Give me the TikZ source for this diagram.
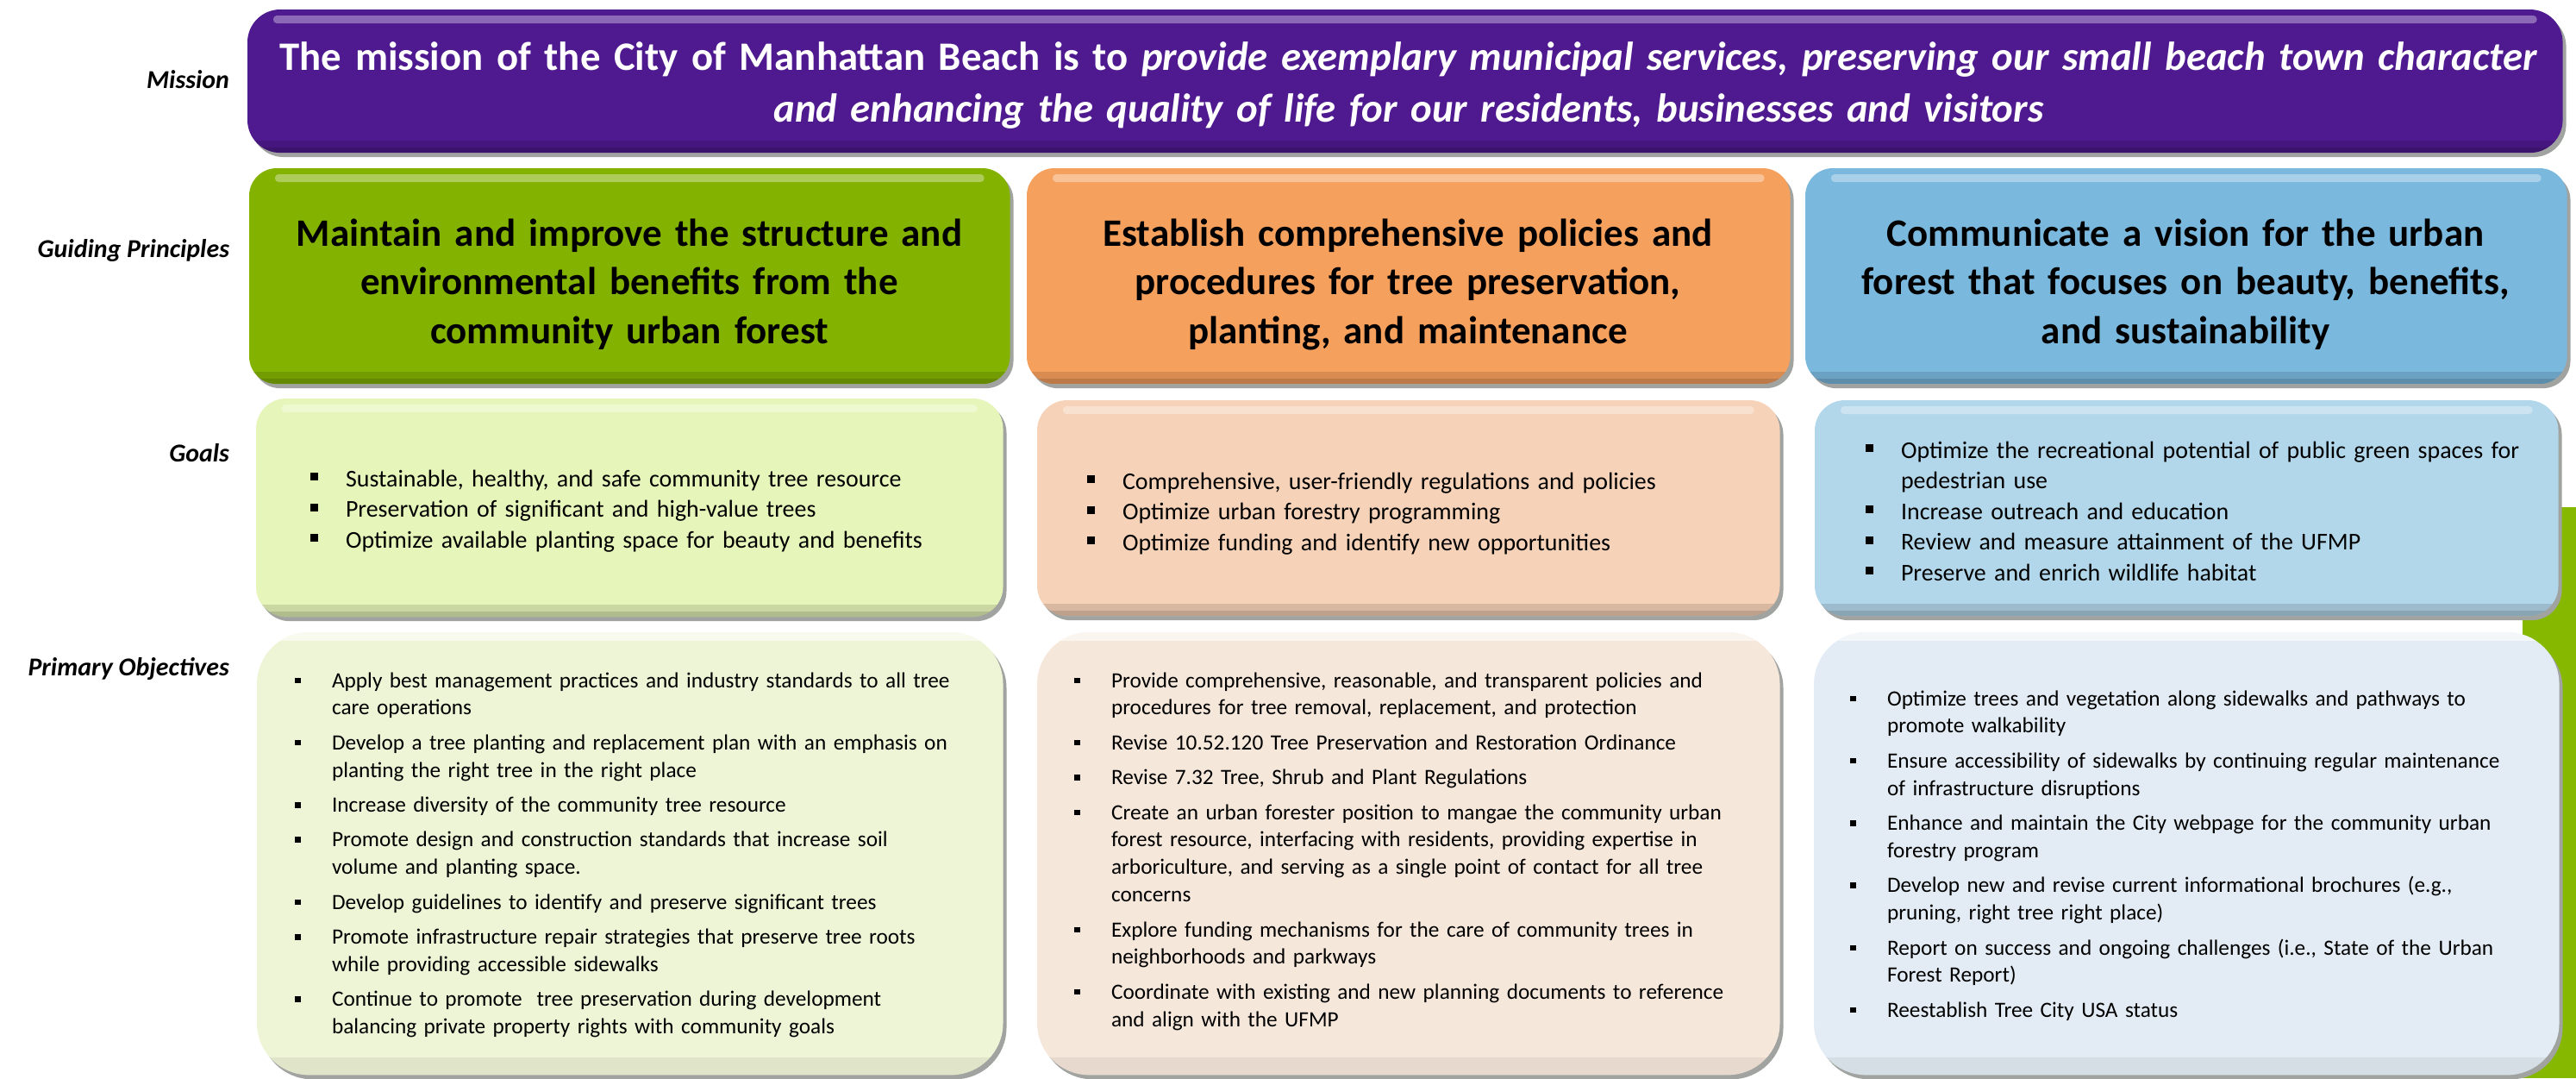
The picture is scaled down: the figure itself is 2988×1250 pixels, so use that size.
\documentclass[tikz,border=0pt]{standalone}
\usepackage{fontspec}
\setmainfont{Carlito}
\usetikzlibrary{shadows}

\definecolor{missionpurple}{RGB}{79,26,143}
\definecolor{princgreen}{RGB}{132,178,0}
\definecolor{princorange}{RGB}{246,160,94}
\definecolor{princblue}{RGB}{122,184,222}
\definecolor{goalgreen}{RGB}{230,245,185}
\definecolor{goalorange}{RGB}{246,210,184}
\definecolor{goalblue}{RGB}{178,215,234}
\definecolor{objgreen}{RGB}{238,244,214}
\definecolor{objorange}{RGB}{246,231,219}
\definecolor{objblue}{RGB}{227,236,244}
\definecolor{stripgreen}{RGB}{134,184,0}
\definecolor{shadowgray}{RGB}{160,163,160}

\newlength{\bulletgap}
\newlength{\bulletsize}
\newlength{\bulletraise}
\newlength{\itemgap}
\newcommand{\itm}[1]{\parskip=\itemgap\relax\noindent\hangindent=\bulletgap\hangafter=1%
  \makebox[\bulletgap][l]{\rule[\bulletraise]{\bulletsize}{\bulletsize}}#1\par}

\begin{document}
\begin{tikzpicture}[x=0.01cm, y=-0.01cm, every node/.style={inner sep=0pt, outer sep=0pt}]
		\tikzset{
			rowlabel/.style = { anchor=base east, font=\fontsize{8.5}{10}\selectfont\bfseries\itshape },
			panel/.style = { rectangle, anchor=north west, rounded corners=#1,
				general shadow={fill=shadowgray, shadow xshift=0.04cm, shadow yshift=-0.05cm} },
			gloss/.style = { path picture={
				\fill[white, opacity=0.35, rounded corners=0.04cm] ([xshift=0.3cm, yshift=-0.07cm]path picture bounding box.north west) rectangle ([xshift=-0.3cm, yshift=-0.16cm]path picture bounding box.north east);
				\fill[black, opacity=0.12, sharp corners] ([yshift=0.14cm]path picture bounding box.south west) rectangle (path picture bounding box.south east);
				\fill[black, opacity=0.12, sharp corners] ([yshift=0.06cm]path picture bounding box.south west) rectangle (path picture bounding box.south east);
			} },
			softgloss/.style = { path picture={
				\fill[white, opacity=0.6, sharp corners] (path picture bounding box.north west) rectangle ([yshift=-0.1cm]path picture bounding box.north east);
				\fill[black, opacity=0.06, sharp corners] ([yshift=0.2cm]path picture bounding box.south west) rectangle (path picture bounding box.south east);
			} },
			missiontext/.style = { anchor=base, text width=28cm, align=center, text=white,
				font=\fontsize{13.3}{17.3}\selectfont\bfseries },
			princtext/.style = { anchor=base, text width=8.8cm, align=center,
				font=\fontsize{12.8}{16.1}\selectfont\bfseries },
			goaltext/.style = { anchor=base west, text width=8cm, align=left,
				font=\fontsize{7.94}{10.1}\selectfont\setlength{\bulletgap}{0.41cm}\setlength{\bulletsize}{0.09cm}\setlength{\bulletraise}{0.07cm}\setlength{\itemgap}{0pt} },
			objtext/.style = { anchor=base west, text width=8cm, align=left,
				font=\fontsize{7.19}{9.05}\selectfont\setlength{\bulletgap}{0.43cm}\setlength{\bulletsize}{0.065cm}\setlength{\bulletraise}{0.05cm}\setlength{\itemgap}{2.45pt} },
		}
		\useasboundingbox (0,0) rectangle (2988,1250);
		\fill[stripgreen] (2926,588) rectangle (2988,1250);

		% row labels
		\node[rowlabel] (lblmission) at (266,102) {Mission};
		\node[rowlabel] (lblprinc) at (266,298) {Guiding Principles};
		\node[rowlabel] (lblgoals) at (266,535) {Goals};
		\node[rowlabel] (lblobj) at (266,783) {Primary Objectives};

		% mission
		\node[panel=0.38cm, fill=missionpurple, gloss, minimum width=26.84cm, minimum height=1.66cm] (mission) at (287,11) {};
		\node[missiontext] (missiontxt) at (1634,81)
			{The mission of the City of Manhattan Beach is to \textit{provide exemplary municipal services, preserving our small beach town character}\\
			 \textit{and enhancing the quality of life for our residents, businesses and visitors}};

		% guiding principles
		\node[panel=0.32cm, fill=princgreen, gloss, minimum width=8.82cm, minimum height=2.5cm] (princ1) at (289,195) {};
		\node[panel=0.32cm, fill=princorange, gloss, minimum width=8.85cm, minimum height=2.5cm] (princ2) at (1191,195) {};
		\node[panel=0.32cm, fill=princblue, gloss, minimum width=8.83cm, minimum height=2.5cm] (princ3) at (2094,195) {};
		\node[princtext] (princ1txt) at (730,285) {Maintain and improve the structure and\\environmental benefits from the\\community urban forest};
		\node[princtext] (princ2txt) at (1633,285) {Establish comprehensive policies and\\procedures for tree preservation,\\planting, and maintenance};
		\node[princtext] (princ3txt) at (2535,285) {Communicate a vision for the urban\\forest that focuses on beauty, benefits,\\and sustainability};

		% goals
		\node[panel=0.35cm, fill=goalgreen, gloss, minimum width=8.66cm, minimum height=2.53cm] (goal1) at (297,462) {};
		\node[panel=0.35cm, fill=goalorange, gloss, minimum width=8.61cm, minimum height=2.5cm] (goal2) at (1203,464) {};
		\node[panel=0.35cm, fill=goalblue, gloss, minimum width=8.62cm, minimum height=2.5cm] (goal3) at (2105,464) {};
		\node[goaltext] (goal1txt) at (360,564) {%
			\itm{Sustainable, healthy, and safe community tree resource}
			\itm{Preservation of significant and high-value trees}
			\itm{Optimize available planting space for beauty and benefits}};
		\node[goaltext] (goal2txt) at (1261,567) {%
			\itm{Comprehensive, user-friendly regulations and policies}
			\itm{Optimize urban forestry programming}
			\itm{Optimize funding and identify new opportunities}};
		\node[goaltext] (goal3txt) at (2164,531) {%
			\itm{Optimize the recreational potential of public green spaces for\newline pedestrian use}
			\itm{Increase outreach and education}
			\itm{Review and measure attainment of the UFMP}
			\itm{Preserve and enrich wildlife habitat}};

		% primary objectives
		\node[panel=0.6cm, fill=objgreen, softgloss, minimum width=8.65cm, minimum height=5.13cm] (obj1) at (298,733) {};
		\node[panel=0.6cm, fill=objorange, softgloss, minimum width=8.61cm, minimum height=5.13cm] (obj2) at (1203,733) {};
		\node[panel=0.6cm, fill=objblue, softgloss, minimum width=8.64cm, minimum height=5.13cm] (obj3) at (2104,733) {};
		\node[objtext] (obj1txt) at (342,797) {%
			\itm{Apply best management practices and industry standards to all tree\newline care operations}
			\itm{Develop a tree planting and replacement plan with an emphasis on\newline planting the right tree in the right place}
			\itm{Increase diversity of the community tree resource}
			\itm{Promote design and construction standards that increase soil\newline volume and planting space.}
			\itm{Develop guidelines to identify and preserve significant trees}
			\itm{Promote infrastructure repair strategies that preserve tree roots\newline while providing accessible sidewalks}
			\itm{Continue to promote \ tree preservation during development\newline balancing private property rights with community goals}};
		\node[objtext] (obj2txt) at (1246,797) {%
			\itm{Provide comprehensive, reasonable, and transparent policies and\newline procedures for tree removal, replacement, and protection}
			\itm{Revise 10.52.120 Tree Preservation and Restoration Ordinance}
			\itm{Revise 7.32 Tree, Shrub and Plant Regulations}
			\itm{Create an urban forester position to mangae the community urban\newline forest resource, interfacing with residents, providing expertise in\newline arboriculture, and serving as a single point of contact for all tree\newline concerns}
			\itm{Explore funding mechanisms for the care of community trees in\newline neighborhoods and parkways}
			\itm{Coordinate with existing and new planning documents to reference\newline and align with the UFMP}};
		\node[objtext] (obj3txt) at (2146,818) {%
			\itm{Optimize trees and vegetation along sidewalks and pathways to\newline promote walkability}
			\itm{Ensure accessibility of sidewalks by continuing regular maintenance\newline of infrastructure disruptions}
			\itm{Enhance and maintain the City webpage for the community urban\newline forestry program}
			\itm{Develop new and revise current informational brochures (e.g.,\newline pruning, right tree right place)}
			\itm{Report on success and ongoing challenges (i.e., State of the Urban\newline Forest Report)}
			\itm{Reestablish Tree City USA status}};
\end{tikzpicture}
\end{document}
